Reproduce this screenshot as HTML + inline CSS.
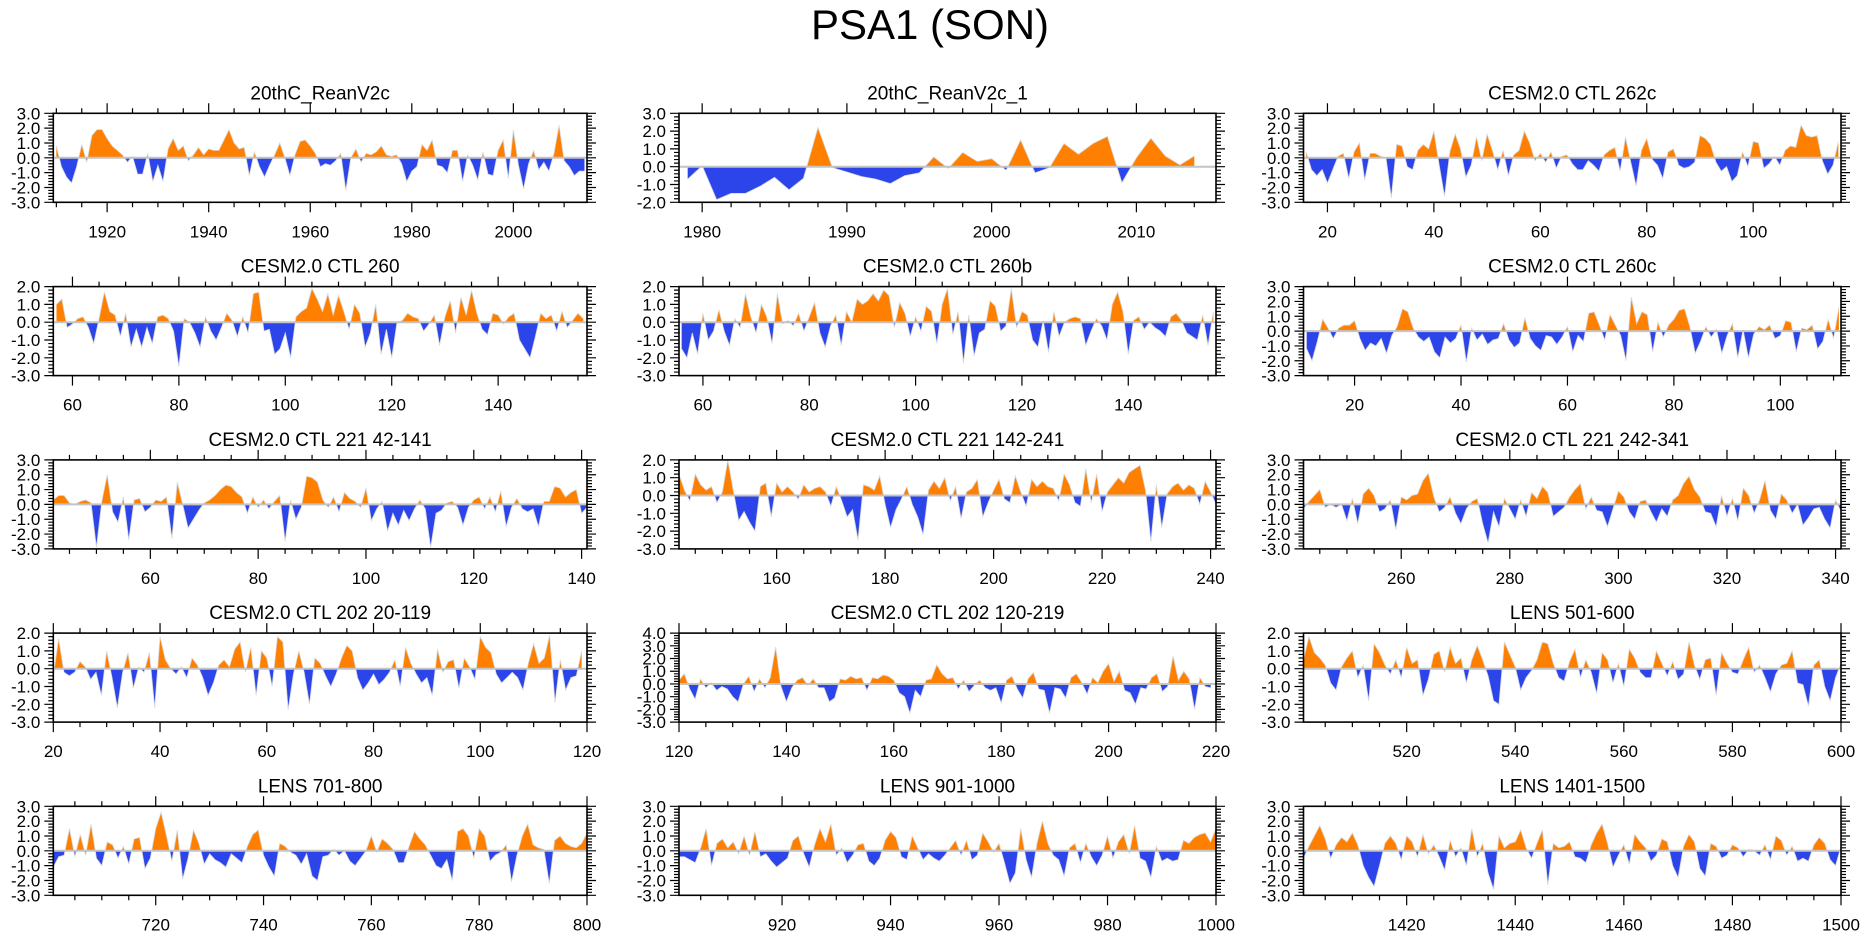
<!DOCTYPE html>
<html><head><meta charset="utf-8"><style>
html,body{margin:0;padding:0;background:#fff;}
svg{display:block;font-family:"Liberation Sans",Arial,sans-serif;}
</style></head><body>
<svg id="chart" width="1861" height="936" viewBox="0 0 1861 936" xmlns="http://www.w3.org/2000/svg">
<text x="930" y="39" font-size="42" text-anchor="middle" fill="#000">PSA1 (SON)</text>
</svg>
<script>
const panelTitles = ["20thC_ReanV2c","20thC_ReanV2c_1","CESM2.0 CTL 262c","CESM2.0 CTL 260","CESM2.0 CTL 260b","CESM2.0 CTL 260c","CESM2.0 CTL 221 42-141","CESM2.0 CTL 221 142-241","CESM2.0 CTL 221 242-341","CESM2.0 CTL 202 20-119","CESM2.0 CTL 202 120-219","LENS 501-600","LENS 701-800","LENS 901-1000","LENS 1401-1500"];
const xStarts = [1910,1979,16,57,56,11,42,142,242,20,120,501,701,901,1401];
const xMins = [1909.4,1978.4,15.5,56.4,55.5,10.4,42,142,242,20,120,501,701,901,1401];
const xMaxs = [2014.5,2015.5,116.5,156.7,156.5,111.4,141,241,341,120,220,600,800,1000,1500];
const yMins = [-3,-2,-3,-3,-3,-3,-3,-3,-3,-3,-3,-3,-3,-3,-3];
const yMaxs = [3,3,3,2,2,3,3,2,3,2,4,2,3,3,3];
const majorSteps = [20,10,20,20,20,20,20,20,20,20,20,20,20,20,20];
const minorSteps = [5,2,5,5,5,5,5,5,5,5,5,5,5,5,5];

const s0 = [0.8,-0.6,-1.3,-1.7,-0.6,0.9,-0.3,1.5,1.9,1.9,1.3,0.8,0.5,0.2,-0.3,0.1,-1.1,-1.1,0.3,-1.6,-0.5,-1.6,0.6,1.3,0.5,0.8,-0.2,0.2,0.7,0.2,0.6,0.5,0.5,1.2,1.9,1.0,0.6,0.7,-1.2,0.4,-0.6,-1.3,-0.5,0.2,1.0,0.0,-1.2,0.2,1.1,1.2,0.8,0.3,-0.6,-0.4,-0.5,-0.2,0.3,-2.2,0.0,0.6,-0.3,0.3,0.2,0.4,0.8,0.2,0.1,0.2,-0.4,-1.6,-0.9,-0.6,0.9,0.5,1.2,-0.5,-0.6,-1.0,0.5,0.5,-1.6,0.2,-0.5,-1.5,0.4,-1.1,-1.2,0.5,1.2,-1.4,1.9,-0.5,-2.1,-0.4,0.5,-0.8,-0.3,-0.9,0.3,2.2,-0.2,-0.6,-1.2,-0.9,-0.9];
const s1 = [-0.7,0.05,-1.85,-1.5,-1.5,-1.1,-0.6,-1.3,-0.65,2.2,-0.05,-0.3,-0.55,-0.7,-0.95,-0.5,-0.35,0.55,-0.1,0.8,0.3,0.45,-0.2,1.5,-0.35,-0.05,1.3,0.7,1.3,1.7,-0.9,0.5,1.6,0.6,0.1,0.6];
const s2 = [0.4,-0.8,-1.2,-0.8,-1.7,-0.8,0.1,0.3,-1.4,0.4,1.0,-1.5,0.3,0.3,0.1,0.0,-2.7,0.9,0.8,-0.6,-0.8,0.5,0.9,0.6,1.8,-0.5,-2.6,0.4,1.6,0.6,-1.3,-0.5,1.4,-0.2,1.6,0.5,-0.8,0.5,-1.2,0.2,0.5,1.8,1.0,-0.2,0.3,-0.3,0.4,-0.7,0.1,0.2,-0.4,-0.8,-0.8,-0.2,-0.5,-0.9,0.2,0.5,0.7,-0.9,1.4,-0.3,-1.9,0.5,1.3,-0.1,-0.5,-1.4,0.4,0.6,-0.5,-0.7,-0.6,-0.3,1.5,1.3,0.9,-0.3,-0.9,-0.6,-1.6,-1.2,0.4,-0.6,1.1,1.0,-0.7,-0.4,0.1,-0.5,0.5,0.8,0.7,2.2,1.5,1.4,1.5,-0.2,-1.1,-0.5,1.1];
const s3 = [1.0,1.3,-0.3,-0.1,0.2,0.3,-0.3,-1.2,0.2,1.7,0.6,0.4,-0.8,0.5,-1.4,-0.4,-1.4,-0.3,-1.2,0.3,0.4,0.2,-0.5,-2.5,0.2,0.0,-0.6,-1.4,0.3,-0.5,-1.0,-0.3,0.5,0.1,-0.8,0.3,-0.6,1.6,1.7,-0.5,-0.4,-1.8,-1.5,-0.6,-2.0,0.3,0.6,0.8,1.9,1.3,0.6,1.6,0.4,1.5,0.6,-0.4,1.0,0.5,-1.4,-0.6,1.0,-1.8,-0.4,-2.0,0.0,0.1,0.5,0.3,0.2,-0.5,-0.1,0.4,-1.3,0.3,1.2,-0.6,1.4,0.4,1.8,0.5,-0.4,-0.7,0.5,0.4,-0.1,0.3,0.5,-1.0,-1.5,-2.0,-0.8,0.5,0.2,0.4,-0.5,0.6,-0.3,0.1,0.5,0.2];
const s4 = [-1.5,-2.0,-0.6,-1.8,0.5,-1.0,-0.5,0.7,-0.5,-1.3,0.2,-0.3,1.6,0.3,-0.6,1.0,0.3,-1.2,1.6,-0.1,0.1,-0.2,0.5,-0.5,0.3,1.1,-0.6,-1.4,-0.2,0.4,-1.3,0.6,0.0,1.3,1.0,1.2,1.6,1.2,1.8,1.5,-0.3,1.1,0.5,-0.8,0.3,-0.5,0.9,0.6,-1.2,1.0,1.9,-0.7,0.6,-2.3,0.4,-1.9,-0.6,-0.4,1.2,0.9,-0.5,-0.2,1.9,-0.3,0.6,0.4,-1.0,-1.4,0.1,-1.7,0.6,-0.8,0.0,0.2,0.3,0.2,-1.3,-0.5,0.2,-0.2,-1.0,1.0,1.7,0.6,-1.8,0.1,0.3,-0.4,0.0,-0.3,-0.5,-0.8,0.3,0.5,0.1,-0.6,-0.8,-1.0,0.4,-1.3,0.6];
const s5 = [-1.2,-2.0,-0.7,0.8,0.2,-0.5,0.2,0.4,0.4,0.7,-0.5,-1.3,-0.8,-1.0,-0.5,-1.5,-0.3,0.3,1.5,1.3,0.2,-0.4,-0.7,-0.4,-1.4,-1.8,-0.4,-0.8,-0.5,0.4,-2.1,0.2,-0.6,-0.2,-0.9,-0.6,-0.5,0.5,-0.6,-1.1,-0.8,0.9,-0.5,-1.0,-1.3,-0.3,-0.4,-0.9,-0.4,0.3,-1.4,-0.3,-0.7,1.2,1.3,0.4,-0.6,1.1,0.4,-0.3,-2.0,2.3,0.5,1.3,1.1,-1.4,0.6,-0.4,0.4,0.8,1.4,1.5,0.3,-1.5,-0.7,0.3,-0.4,0.1,-1.5,-0.3,0.5,-1.8,0.1,-1.8,-0.2,0.3,0.1,0.4,-0.5,-0.3,0.7,0.6,-1.4,0.2,0.1,0.4,-1.2,-0.7,0.8,-0.5,1.6];
const s6 = [0.3,0.6,0.6,0.1,0.0,0.2,0.3,0.1,-2.9,0.2,2.0,-0.5,-1.2,0.5,-2.4,0.3,0.4,-0.5,-0.2,0.3,0.2,0.5,-2.3,1.5,0.0,-1.6,-1.0,-0.4,0.1,0.3,0.6,1.0,1.3,1.2,0.8,0.5,-0.6,0.5,-0.2,0.3,-0.3,0.2,0.6,-2.5,0.3,-1.0,-0.2,1.9,1.8,1.5,0.3,-0.2,0.5,-0.5,0.8,0.4,0.2,-0.2,1.1,-1.1,-0.3,0.2,-1.8,-0.6,-1.4,-0.4,-1.1,-0.3,0.3,-0.3,-2.9,-0.6,-0.4,0.1,0.2,-0.2,-1.4,-0.2,0.3,0.5,-0.3,0.5,-0.5,0.9,-1.5,-0.2,0.4,-0.3,-0.5,-0.3,-1.5,0.2,0.2,1.2,1.1,0.5,0.8,1.0,-0.6,-0.2];
const s7 = [1.2,0.3,-0.3,1.2,0.6,0.3,0.5,-0.4,0.2,2.0,0.3,-1.4,-0.9,-1.5,-2.0,0.5,0.7,-1.2,0.7,0.2,0.5,0.2,-0.2,0.6,0.2,0.4,0.5,0.2,-0.6,0.5,-0.3,-1.2,-0.8,-2.5,0.6,0.5,0.3,1.1,-0.5,-1.8,-0.8,-0.2,0.5,-0.5,-1.2,-2.2,0.3,0.8,0.4,1.0,-0.3,0.5,-1.3,0.2,0.4,0.9,-1.2,-0.4,0.3,0.9,-0.2,-0.4,1.1,0.2,-0.6,0.9,0.5,0.8,0.5,0.4,-0.3,1.2,0.6,-0.4,-0.6,1.5,-0.4,1.2,-0.9,0.2,0.6,1.0,0.7,1.3,1.5,1.7,0.3,-2.6,0.6,-1.8,0.1,0.5,0.7,0.3,0.6,0.4,-0.5,0.8,0.2,-0.5];
const s8 = [-0.3,0.2,0.6,1.0,-0.2,0.0,-0.2,0.0,-1.1,0.4,-1.3,0.7,1.1,0.6,-0.5,-0.3,0.3,-1.7,0.5,0.3,0.6,0.7,1.6,2.1,0.5,-0.5,-0.2,0.5,-0.6,-1.3,-0.3,0.2,0.4,-1.3,-2.6,-0.5,-1.5,0.4,-0.3,-1.0,0.3,-0.8,0.8,0.4,1.2,0.8,-0.8,-0.5,-0.2,0.5,1.0,1.4,-0.3,0.5,-0.4,-0.5,-1.5,-0.3,0.9,0.5,-0.5,-1.0,0.2,0.3,-0.5,-1.2,-0.3,-0.8,0.3,0.6,1.4,1.9,1.0,0.5,-0.5,-0.6,-1.5,0.6,-0.8,0.4,-1.1,1.1,0.6,-0.6,0.3,1.6,-0.4,-1.0,0.7,0.3,-0.6,0.0,-1.4,-0.9,-0.3,-0.2,-1.0,-1.6,0.3,-0.5];
const s9 = [-0.4,1.7,-0.2,-0.4,-0.2,0.4,0.1,-0.6,-0.2,-1.5,1.0,-0.5,-2.2,-0.2,0.9,-1.1,0.1,-0.2,0.9,-2.2,1.8,0.5,0.0,-0.3,0.1,-0.5,0.6,0.2,-0.5,-1.5,-0.8,0.2,0.5,0.1,1.1,1.5,-0.2,1.2,-1.5,1.0,0.6,-1.0,1.8,1.5,-2.3,-0.3,1.0,-0.2,-2.0,0.6,0.3,-0.4,-1.0,-0.3,0.6,1.3,1.0,-0.5,-1.2,-0.8,-0.3,-0.9,-0.6,-0.2,0.5,-1.0,1.2,0.3,-0.3,-0.8,-0.5,-1.5,1.1,-0.2,0.4,0.5,-1.1,0.6,0.1,-0.6,1.8,1.2,0.9,-0.3,-0.8,-0.5,-0.2,-0.5,-1.2,0.3,1.4,0.3,0.6,1.9,-1.9,0.5,-1.2,-0.5,-0.4,1.0];
const s10 = [0.3,0.8,-0.4,-1.2,0.4,-0.3,0.1,-0.5,-0.2,-0.4,-1.0,-1.4,0.0,0.6,-0.6,0.4,-0.3,0.5,2.9,-0.2,-1.4,-0.3,0.3,0.5,-0.1,0.4,-0.3,-0.3,-1.4,-1.1,0.4,0.3,0.6,0.4,0.5,-0.5,0.5,0.4,0.7,0.6,0.3,-0.7,-1.0,-2.3,-0.5,-1.0,0.3,0.4,1.5,0.8,0.4,0.5,-0.4,0.3,-0.6,-0.1,0.3,-0.3,-0.5,-0.3,-1.5,0.3,0.6,-0.4,-1.1,0.4,0.9,-0.4,-0.5,-2.3,-0.3,-0.4,-1.1,0.5,0.8,0.1,-0.8,0.5,0.1,1.0,1.6,0.2,1.0,-0.5,-0.7,-1.6,-0.3,-0.4,0.5,0.8,-0.6,-0.2,2.2,0.3,1.0,0.4,-2.0,0.5,-0.2,-0.3];
const s11 = [0.5,1.8,0.9,0.6,0.2,-0.8,-1.2,0.1,0.6,1.0,-0.5,0.2,-1.8,1.4,0.9,0.2,-0.3,0.5,-0.5,1.2,0.3,0.5,-1.5,-0.6,0.8,1.0,-0.2,1.2,0.3,0.6,-0.8,0.5,1.3,0.5,-0.4,-1.8,-2.0,1.5,0.8,0.1,-1.2,-0.5,-0.1,0.5,1.5,1.4,0.3,-0.5,-0.7,0.4,1.1,-0.5,0.5,-0.2,-1.4,0.9,0.5,-0.8,0.3,-1.0,1.1,0.6,-0.2,-0.5,-0.5,1.0,0.3,-0.4,0.4,-0.6,-0.3,1.5,0.2,-0.6,0.5,0.6,-1.5,0.9,0.3,-0.2,-0.3,0.5,1.2,-0.2,0.2,-0.5,-1.3,-0.3,0.2,0.3,1.0,-0.8,-0.9,-2.1,0.2,0.5,-1.0,-1.8,-0.5,0.3];
const s12 = [-1.1,-0.4,-0.3,1.5,-0.4,1.1,-0.3,1.8,-0.5,-1.0,0.6,0.4,-0.5,0.3,-0.9,0.8,0.9,-1.2,-0.5,1.5,2.6,1.0,-0.7,1.4,-1.9,-0.5,1.4,0.5,-0.9,-0.2,-0.6,-0.8,-1.1,-0.2,-0.5,-0.8,0.3,1.1,1.4,-0.3,-1.1,-1.7,0.5,0.3,-0.1,-0.3,-0.9,-0.2,-1.7,-2.0,-0.4,-0.3,0.1,-0.3,0.0,-0.7,-1.0,-0.5,0.0,1.0,-0.1,0.8,0.5,0.1,-0.8,-0.8,0.3,1.3,0.8,0.4,-0.3,-1.0,-1.2,-0.6,-2.0,1.3,1.5,1.0,-0.5,1.5,1.0,-0.7,-0.3,-0.1,0.4,-2.1,-0.3,1.0,1.8,0.4,0.2,0.1,-2.2,0.7,1.0,0.5,0.3,0.2,0.5,1.2];
const s13 = [-0.4,-0.4,-0.6,-0.8,0.2,1.5,-1.0,0.5,0.8,0.2,0.6,-0.2,1.0,-0.3,1.3,-0.4,-0.2,-0.7,-1.1,-0.8,-0.5,0.7,1.0,-0.2,-1.1,0.4,1.5,0.6,1.8,-0.3,0.2,-0.8,-0.3,0.4,0.5,-0.7,-1.0,-0.5,0.7,1.3,0.9,-0.4,-0.6,1.0,0.2,-0.6,-0.2,-0.5,-0.7,-0.3,0.2,0.7,-0.3,0.7,-0.6,-0.3,1.2,0.6,-0.1,0.5,-0.8,-2.2,-1.5,1.5,-0.6,-1.8,0.5,2.0,0.5,-0.3,-0.6,-1.7,0.2,0.5,-0.8,0.5,-0.4,-1.0,-0.3,1.0,-0.5,0.6,1.1,-0.2,1.7,-0.5,-0.7,-1.8,0.3,-0.7,-0.5,-0.7,-0.6,0.7,0.5,0.9,1.1,1.2,0.6,1.5];
const s14 = [-0.5,0.3,1.0,1.7,0.8,-0.5,0.4,0.9,0.6,1.2,0.4,-1.0,-1.8,-2.4,-1.0,0.5,1.0,0.5,-0.6,1.0,0.6,-0.4,1.1,-0.2,0.4,-0.4,-1.3,0.7,-0.4,0.2,-1.0,1.5,-0.4,0.5,-1.5,-2.6,1.0,0.2,0.5,0.6,1.4,0.2,-0.5,0.5,1.4,-2.3,0.5,0.2,0.3,0.6,-0.4,-0.5,-0.8,0.4,1.2,1.8,0.5,-1.1,-0.3,0.4,-0.9,1.1,0.6,0.2,-0.7,-0.3,0.8,0.6,-1.0,-1.8,0.3,1.1,0.6,-1.2,-1.7,0.5,0.3,-0.5,-0.3,0.4,0.2,-0.4,0.1,0.0,-0.3,0.4,-0.6,1.0,0.7,-0.3,0.3,-0.7,-0.5,-0.7,0.4,0.9,0.5,-0.6,-1.0,0.3];
const seriesList = [s0,s1,s2,s3,s4,s5,s6,s7,s8,s9,s10,s11,s12,s13,s14];

const NS = "http://www.w3.org/2000/svg";
const svg = document.getElementById('chart');
const colLeft = [53.3, 679, 1303.5];
const colRight = [587, 1216, 1841];
const rowTop = [113.3, 286.6, 459.9, 633.1, 806.3];
const H = 89;
const POS = "#ff8000", NEG = "#2b45eb";

function mk(tag, attrs, parent) {
  const e = document.createElementNS(NS, tag);
  for (const k in attrs) e.setAttribute(k, attrs[k]);
  (parent || svg).appendChild(e);
  return e;
}
function fmt(v){ return (Math.abs(v) < 1e-9 ? 0 : v).toFixed(1); }

for (let p = 0; p < 15; p++) {
  const col = p % 3, row = Math.floor(p / 3);
  const L = colLeft[col], R = colRight[col], T = rowTop[row], B = T + H;
  const x0 = xMins[p], x1 = xMaxs[p], y0 = yMins[p], y1 = yMaxs[p];
  const xs = v => L + (v - x0) / (x1 - x0) * (R - L);
  const ys = v => B - (v - y0) / (y1 - y0) * H;
  const g = mk('g', {});
  
  

  const title = mk('text', {x: (L + R) / 2, y: T - 14, 'font-size': 19, 'text-anchor': 'middle', fill: '#000'}, g);
  title.textContent = panelTitles[p];
  
  

  const vals = seriesList[p];
  const pts = [];
  for (let i = 0; i < vals.length; i++) {
    const x = xStarts[p] + i, v = vals[i];
    if (i > 0) {
      const pv = vals[i - 1];
      if ((pv > 0 && v < 0) || (pv < 0 && v > 0)) {
        const t = pv / (pv - v);
        pts.push([x - 1 + t, 0]);
      }
    }
    pts.push([x, v]);
  }
  const z = ys(0);
  function areaPath(sign) {
    let d = 'M' + xs(pts[0][0]).toFixed(2) + ',' + z.toFixed(2);
    for (const [x, v] of pts) {
      const vv = sign > 0 ? Math.max(v, 0) : Math.min(v, 0);
      d += 'L' + xs(x).toFixed(2) + ',' + ys(vv).toFixed(2);
    }
    d += 'L' + xs(pts[pts.length - 1][0]).toFixed(2) + ',' + z.toFixed(2) + 'Z';
    return d;
  }
  const pos = mk('path', {d: areaPath(1), fill: POS, stroke: 'none'}, g);
  
  
  const neg = mk('path', {d: areaPath(-1), fill: NEG, stroke: 'none'}, g);
  
  
  let ld = '';
  pts.forEach((q, i) => { ld += (i ? 'L' : 'M') + xs(q[0]).toFixed(2) + ',' + ys(q[1]).toFixed(2); });
  const line = mk('path', {d: ld, fill: 'none', stroke: '#d8d8d8', 'stroke-width': 0.8}, g);
  
  

  const zl = mk('line', {x1: L, x2: R, y1: z, y2: z, stroke: '#c4c4c4', 'stroke-width': 2}, g);
  
  

  const frame = mk('rect', {x: L, y: T, width: R - L, height: H, fill: 'none', stroke: '#000', 'stroke-width': 1.6}, g);
  
  

  let tk = '';
  const ms = minorSteps[p], Ms = majorSteps[p];
  for (let v = Math.ceil(x0 / ms) * ms; v <= x1 + 1e-9; v += ms) {
    const X = xs(v).toFixed(2);
    const major = (v % Ms === 0);
    const len = major ? 10 : 5;
    tk += 'M' + X + ',' + B + 'v' + len + 'M' + X + ',' + T + 'v' + (-len);
    if (major) {
      const lb = mk('text', {x: X, y: B + 35, 'font-size': 17, 'text-anchor': 'middle', fill: '#000'}, g);
      lb.textContent = v;
      
      
    }
  }
  for (let k = Math.round(y0 * 5); k <= Math.round(y1 * 5); k++) {
    const v = k / 5, Y = ys(v).toFixed(2);
    const major = (k % 5 === 0);
    const len = major ? 9 : 5;
    tk += 'M' + L + ',' + Y + 'h' + (-len) + 'M' + R + ',' + Y + 'h' + len;
    if (major) {
      const lb = mk('text', {x: L - 13, y: +Y + 6, 'font-size': 17, 'text-anchor': 'end', fill: '#000'}, g);
      lb.textContent = fmt(v);
      
      
    }
  }
  const ticks = mk('path', {d: tk, stroke: '#000', 'stroke-width': 1.2, fill: 'none'}, g);
  
  
}
</script>
</body></html>
